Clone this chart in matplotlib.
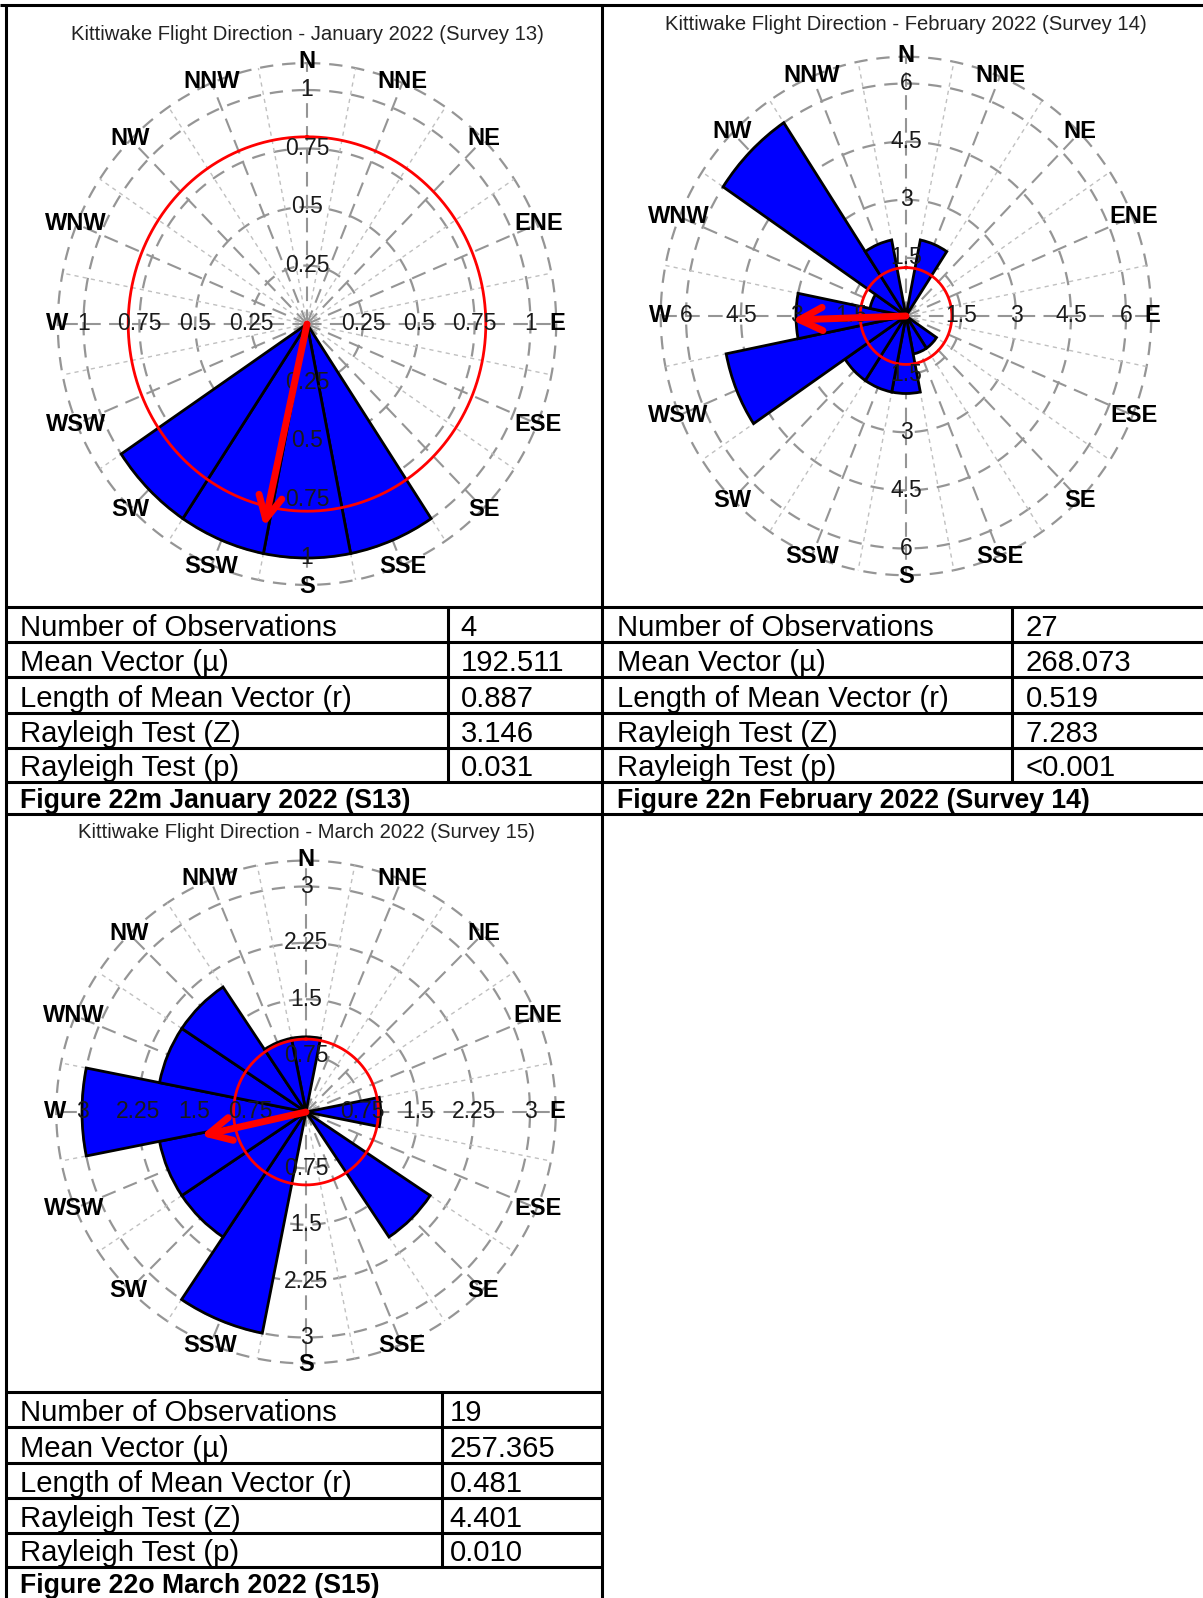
import numpy as np
import matplotlib
matplotlib.use("Agg")
import matplotlib.pyplot as plt
from matplotlib.patches import ArrowStyle

plt.rcParams['font.family'] = ['Liberation Sans', 'DejaVu Sans']

# ---------------- data ----------------
compass = ["N", "NNE", "NE", "ENE", "E", "ESE", "SE", "SSE",
           "S", "SSW", "SW", "WSW", "W", "WNW", "NW", "NNW"]
bin_dirs = [i * 22.5 for i in range(16)]

# counts per 22.5 degree sector, N clockwise
jan_counts = [0, 0, 0, 0, 0, 0, 0, 1, 1, 1, 1, 0, 0, 0, 0, 0]
feb_counts = [0, 2, 0, 0, 0, 0, 1, 1, 2, 2, 2, 5, 3, 1, 6, 2]
mar_counts = [1, 0, 0, 0, 1, 0, 2, 0, 0, 3, 2, 2, 3, 2, 2, 1]

jan_ticks = [0.25, 0.5, 0.75, 1]
feb_ticks = [1.5, 3, 4.5, 6]
mar_ticks = [0.75, 1.5, 2.25, 3]

jan_ref_circle = 0.80
feb_ref_circle = 1.25
mar_ref_circle = 0.97

stat_labels = ["Number of Observations", "Mean Vector (\u00b5)",
               "Length of Mean Vector (r)", "Rayleigh Test (Z)",
               "Rayleigh Test (p)"]
jan_stats = ["4", "192.511", "0.887", "3.146", "0.031"]
feb_stats = ["27", "268.073", "0.519", "7.283", "<0.001"]
mar_stats = ["19", "257.365", "0.481", "4.401", "0.010"]

jan_mu, jan_r = 192.511, 0.887
feb_mu, feb_r = 268.073, 0.519
mar_mu, mar_r = 257.365, 0.481

titles = ["Kittiwake Flight Direction - January 2022 (Survey 13)",
          "Kittiwake Flight Direction - February 2022 (Survey 14)",
          "Kittiwake Flight Direction - March 2022 (Survey 15)"]
captions = ["Figure 22m January 2022 (S13)",
            "Figure 22n February 2022 (Survey 14)",
            "Figure 22o March 2022 (S15)"]

# ---------------- figure ----------------
W, H = 1203, 1598
fig = plt.figure(figsize=(W / 100, H / 100), dpi=100)
fig.patch.set_facecolor("white")

ov = fig.add_axes([0, 0, 1, 1])
ov.set_xlim(0, W)
ov.set_ylim(H, 0)
ov.axis("off")


def fmt(v):
    return "{:g}".format(v)


def rose(cx, cy, hpx, vpx, ticks, counts, mu, r, ref, title, ty):
    """hpx / vpx: pixel length of the outermost tick ring horizontally / vertically."""
    vmax = ticks[-1]
    lim = 1.25 * vmax
    rx = lim * hpx / vmax
    ry = lim * vpx / vmax
    ax = fig.add_axes([(cx - rx) / W, 1 - (cy + ry) / H,
                       2 * rx / W, 2 * ry / H], projection="polar")
    ax.set_aspect("auto")
    ax.set_theta_zero_location("N")
    ax.set_theta_direction(-1)
    ax.set_rlim(0, lim)
    ax.set_axis_off()

    th = np.linspace(0, 2 * np.pi, 721)
    outer = 1.115 * vmax
    # concentric rings
    for t in list(ticks) + [outer]:
        ax.plot(th, np.full_like(th, t), color="#959595", lw=1.6,
                ls=(0, (6, 4)), zorder=1)
    # radial guide lines
    for k in range(32):
        a = np.deg2rad(k * 11.25)
        if k % 2 == 0:
            ax.plot([a, a], [0, outer], color="#959595", lw=1.5,
                    ls=(0, (7, 4)), zorder=1)
        else:
            ax.plot([a, a], [0, outer], color="#c0c0c0", lw=1.0,
                    ls=(0, (3, 3)), zorder=1)

    ax.bar(np.deg2rad(bin_dirs), counts, width=np.deg2rad(22.5),
           color="#0000ff", edgecolor="black", linewidth=2, zorder=2)

    ax.plot(th, np.full_like(th, ref), color="#ff0000", lw=2, zorder=4)

    # axis value labels on the four cardinal axes
    for t in ticks:
        for a in (0, 90, 180, 270):
            ax.text(np.deg2rad(a), t, fmt(t), ha="center", va="center",
                    fontsize=16.5, color="#1a1a1a", zorder=5)

    # compass labels
    for name, d in zip(compass, bin_dirs):
        ax.text(np.deg2rad(d), 1.12 * vmax, name, ha="center", va="center",
                fontsize=17, fontweight="bold", zorder=5)

    # mean vector
    ax.annotate("", xy=(np.deg2rad(mu), r * vmax), xytext=(np.deg2rad(mu), 0),
                arrowprops=dict(arrowstyle=ArrowStyle("->", head_length=0.75,
                                                      head_width=0.38),
                                color="#ff0000", lw=5,
                                mutation_scale=22, shrinkA=0, shrinkB=0),
                zorder=6)

    ov.text(cx, ty, title, ha="center", va="center", fontsize=14.6,
            color="#222222")
    return ax


rose(307, 324, 223.5, 234, jan_ticks, jan_counts, jan_mu, jan_r,
     jan_ref_circle, titles[0], 35)
rose(906, 316, 220, 232.5, feb_ticks, feb_counts, feb_mu, feb_r,
     feb_ref_circle, titles[1], 25)
rose(306, 1112, 224, 225.5, mar_ticks, mar_counts, mar_mu, mar_r,
     mar_ref_circle, titles[2], 832)

# ---------------- tables and panel borders ----------------
lw = 2.2
k = dict(color="black", lw=lw, solid_capstyle="butt")

ov.plot([0, W], [4.7, 4.7], **k)
ov.plot([5.7, 5.7], [4.7, H], **k)
ov.plot([602, 602], [4.7, H], **k)

rows_top = [606.7, 641.7, 677.3, 713.3, 748.3, 782.3, 814]
rows_bot = [1391.7, 1426.7, 1462.7, 1498.3, 1533.3, 1567.3]

for y in rows_top:
    ov.plot([5.7, W], [y, y], **k)
for y in rows_bot:
    ov.plot([5.7, 602], [y, y], **k)

ov.plot([447.7, 447.7], [rows_top[0], rows_top[5]], **k)
ov.plot([1011.7, 1011.7], [rows_top[0], rows_top[5]], **k)
ov.plot([441.7, 441.7], [rows_bot[0], rows_bot[5]], **k)

fs = 21.1
fs_cap = 19.2


def table(x0, xv, rows, values, caption, pad_v):
    for i, (lab, val) in enumerate(zip(stat_labels, values)):
        yb = rows[i + 1] - 6
        ov.text(x0, yb, lab, ha="left", va="baseline", fontsize=fs)
        ov.text(xv + pad_v, yb, val, ha="left", va="baseline", fontsize=fs)
    ov.text(x0, rows[5] + 26, caption, ha="left", va="baseline",
            fontsize=fs_cap, fontweight="bold")


table(20, 447.7, rows_top, jan_stats, captions[0], 13)
table(617, 1011.7, rows_top, feb_stats, captions[1], 14)
table(20, 441.7, rows_bot, mar_stats, captions[2], 8)

fig.savefig("out.png", dpi=100, facecolor="white")
